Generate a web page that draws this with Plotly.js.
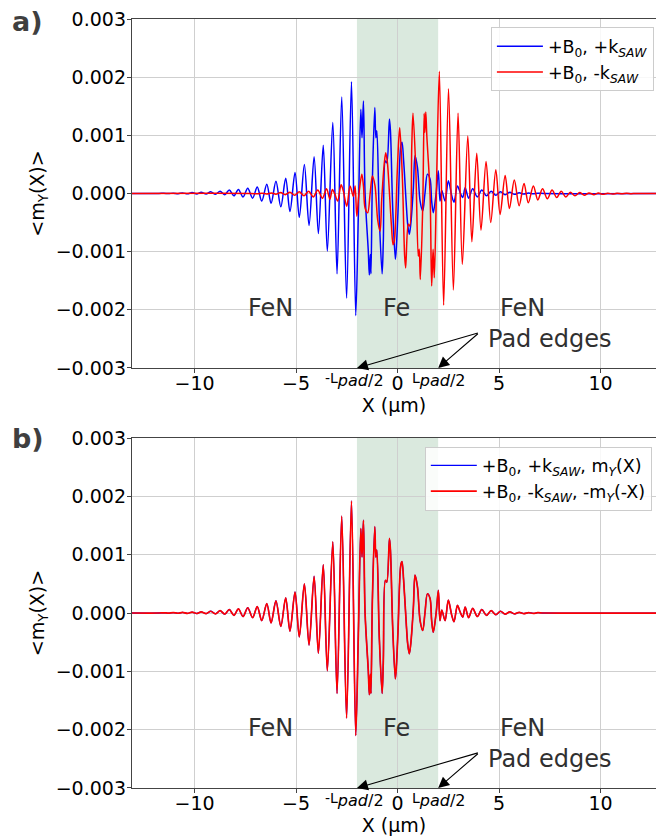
<!DOCTYPE html>
<html>
<head>
<meta charset="utf-8">
<script src="https://cdn.plot.ly/plotly-3.0.1.min.js"></script>
<style>
  html, body { margin: 0; padding: 0; background: #fff; }
  #chart { width: 656px; height: 840px; }
</style>
</head>
<body>
<div id="chart"></div>
<script>
// ---- data (x in µm, <mY> values) ----
// +B0, +kSAW  (extrema and turning points of the blue curve)
const blueX = [-13.08, -11.75, -11.51, -11.28, -11.05, -10.81, -10.59, -10.35, -10.12, -9.89,
  -9.67, -9.43, -9.20, -8.97, -8.74, -8.51, -8.29, -8.06, -7.84, -7.61,
  -7.38, -7.14, -6.91, -6.69, -6.44, -6.23, -5.99, -5.75, -5.51, -5.30,
  -5.05, -4.84, -4.59, -4.36, -4.11, -3.90, -3.66, -3.46, -3.19, -2.98,
  -2.75, -2.51, -2.27, -2.06, -1.93, -1.81, -1.75, -1.68, -1.60, -1.44,
  -1.39, -1.34, -1.31, -1.24, -1.12, -1.07, -1.02, -0.90, -0.76, -0.70,
  -0.60, -0.53, -0.40, -0.35, -0.24, -0.11, -0.06, 0.02, 0.16, 0.22,
  0.30, 0.42, 0.50, 0.58, 0.65, 0.78, 0.86, 0.98, 1.11, 1.24,
  1.35, 1.47, 1.60, 1.68, 1.76, 1.90, 2.01, 2.09, 2.18, 2.34,
  2.50, 2.67, 2.78, 2.95, 3.08, 3.21, 3.33, 3.50, 3.70, 3.93,
  4.15, 4.38, 4.61, 4.84, 5.07, 5.30, 5.53, 5.76, 5.99, 6.22,
  6.45, 6.68, 6.91, 7.20, 13.08];
const blueY = [0, 0, 0.000004, -0.000002, 0.000006, -0.000004, 0.00001, -0.000006, 0.000015, -0.000008,
  0.00002, -0.00001, 0.00003, -0.000015, 0.00004, -0.00002, 0.00006, -0.00004, 0.00007, -0.00006,
  0.00009, -0.00008, 0.00011, -0.00013, 0.00016, -0.00017, 0.00021, -0.00023, 0.00026, -0.00031,
  0.00036, -0.00041, 0.00050, -0.00055, 0.00063, -0.00069, 0.00083, -0.00099, 0.00122, -0.00138,
  0.00166, -0.00180, 0.00192, -0.00210, -0.00035, 0.00145, 0.00096, 0.00159, 0.00000, -0.00100,
  -0.00140, -0.00105, -0.00138, 0.00022, 0.00148, 0.00096, 0.00108, -0.00041, -0.00138, -0.00081,
  0.00056, 0.00053, 0.00128, 0.00108, -0.00024, -0.00113, -0.00093, -0.00033, 0.00082, 0.00088,
  0.00056, -0.00013, -0.00053, -0.00070, -0.00053, 0.00010, 0.00065, 0.00045, -0.00013, -0.00030,
  0.00000, 0.00033, 0.00025, -0.00013, -0.00033, 0.00000, 0.00039, -0.00013, 0.00005, -0.00013,
  0.00022, -0.00004, -0.00015, 0.00013, 0.00002, -0.00007, 0.00010, -0.00008, 0.00008, -0.00006,
  0.00006, -0.00004, 0.00004, -0.00003, 0.00003, -0.00002, 0.00002, -0.000015, 0.000012, -0.00001,
  0.000008, -0.000006, 0.000005, 0, 0];

// +B0, -kSAW  (red curve)
const redX = [-13.08, -7.20, -6.91, -6.68, -6.45, -6.22, -5.99, -5.76, -5.53, -5.30,
  -5.07, -4.84, -4.61, -4.38, -4.15, -3.93, -3.70, -3.50, -3.33, -3.21,
  -3.08, -2.95, -2.78, -2.67, -2.50, -2.34, -2.18, -2.09, -2.01, -1.90,
  -1.76, -1.68, -1.60, -1.47, -1.35, -1.24, -1.11, -0.98, -0.86, -0.78,
  -0.65, -0.58, -0.50, -0.42, -0.30, -0.22, -0.16, -0.02, 0.06, 0.11,
  0.24, 0.35, 0.40, 0.53, 0.60, 0.70, 0.76, 0.90, 1.02, 1.07,
  1.12, 1.24, 1.31, 1.34, 1.39, 1.44, 1.60, 1.68, 1.75, 1.81,
  1.93, 2.06, 2.27, 2.51, 2.75, 2.98, 3.19, 3.46, 3.66, 3.90,
  4.11, 4.36, 4.59, 4.84, 5.05, 5.30, 5.51, 5.75, 5.99, 6.23,
  6.44, 6.69, 6.91, 7.14, 7.38, 7.61, 7.84, 8.06, 8.29, 8.51,
  8.74, 8.97, 9.20, 9.43, 9.67, 9.89, 10.12, 10.35, 10.59, 10.81,
  11.05, 11.28, 11.51, 11.75, 13.08];
const redY = [0, 0, -0.000005, 0.000006, -0.000008, 0.00001, -0.000012, 0.000015, -0.00002, 0.00002,
  -0.00003, 0.00003, -0.00004, 0.00004, -0.00006, 0.00006, -0.00008, 0.00008, -0.00010, 0.00007,
  -0.00002, -0.00013, 0.00015, 0.00004, -0.00022, 0.00013, -0.00005, 0.00013, -0.00039, 0.00000,
  0.00033, 0.00013, -0.00025, -0.00033, 0.00000, 0.00030, 0.00013, -0.00045, -0.00065, -0.00010,
  0.00053, 0.00070, 0.00053, 0.00013, -0.00056, -0.00088, -0.00082, 0.00033, 0.00093, 0.00113,
  0.00024, -0.00108, -0.00128, -0.00053, -0.00056, 0.00081, 0.00138, 0.00041, -0.00108, -0.00096,
  -0.00148, -0.00022, 0.00138, 0.00105, 0.00140, 0.00100, 0.00000, -0.00159, -0.00096, -0.00145,
  0.00035, 0.00210, -0.00192, 0.00180, -0.00166, 0.00138, -0.00122, 0.00099, -0.00083, 0.00069,
  -0.00063, 0.00055, -0.00050, 0.00041, -0.00036, 0.00031, -0.00026, 0.00023, -0.00021, 0.00017,
  -0.00016, 0.00013, -0.00011, 0.00008, -0.00009, 0.00006, -0.00007, 0.00004, -0.00006, 0.00002,
  -0.00004, 0.000015, -0.00003, 0.00001, -0.00002, 0.000008, -0.000015, 0.000006, -0.00001, 0.000004,
  -0.000006, 0.000002, -0.000004, 0, 0];

const xTickVals = [-10, -5, 0, 5, 10];
const yTickVals = [-0.003, -0.002, -0.001, 0, 0.001, 0.002, 0.003];
const padEdges = [-2, 2];
const padLabels = [
  '<span style="font-size:14px">-L</span><sub><span style="font-size:16px"><i>pad</i>/2</span></sub>',
  '<span style="font-size:14px">L</span><sub><span style="font-size:16px"><i>pad</i>/2</span></sub>'
];
const regionLabels = ['FeN', 'Fe', 'FeN'];
const regionLabelX = [-6.24, -0.05, 6.16];

// b) panel: red shown as -mY(-X)
const redMirX = redX.map(v => -v).reverse();
const redMirY = redY.map(v => -v).reverse();

const FONT = 'DejaVu Sans, Verdana, sans-serif';

const traces = [
  {x: blueX, y: blueY, xaxis: 'x', yaxis: 'y', mode: 'lines', name: '+B<sub>0</sub>, +k<sub><i>SAW</i></sub>',
   line: {color: '#0000ff', width: 1.5, shape: 'spline', smoothing: 0.9}, legend: 'legend'},
  {x: redX, y: redY, xaxis: 'x', yaxis: 'y', mode: 'lines', name: '+B<sub>0</sub>, -k<sub><i>SAW</i></sub>',
   line: {color: '#ff0000', width: 1.5, shape: 'spline', smoothing: 0.9}, legend: 'legend'},
  {x: blueX, y: blueY, xaxis: 'x2', yaxis: 'y2', mode: 'lines', name: '+B<sub>0</sub>, +k<sub><i>SAW</i></sub>, m<sub><i>Y</i></sub>(X)',
   line: {color: '#0000ff', width: 1.3, shape: 'spline', smoothing: 0.9}, legend: 'legend2'},
  {x: redMirX, y: redMirY, xaxis: 'x2', yaxis: 'y2', mode: 'lines', name: '+B<sub>0</sub>, -k<sub><i>SAW</i></sub>, -m<sub><i>Y</i></sub>(-X)',
   line: {color: '#ff0000', width: 1.7, shape: 'spline', smoothing: 0.9}, legend: 'legend2'}
];

const xRange = [-13.08, 12.73];
function xAxis(anchor) {
  return {
    anchor: anchor, domain: [0, 1], range: xRange, tickvals: xTickVals,
    showgrid: true, gridcolor: '#cfcfcf', gridwidth: 1, zeroline: false,
    showline: true, linecolor: '#444', linewidth: 1.2, mirror: true,
    ticks: 'outside', ticklen: 4, tickcolor: '#444', ticklabelstandoff: -6,
    tickfont: {family: FONT, size: 19, color: '#000'},
    title: {text: 'X (µm)', font: {family: FONT, size: 19, color: '#000'}, standoff: 0},
    automargin: false
  };
}
function yAxis(anchor, domain) {
  return {
    anchor: anchor, domain: domain, range: [-0.003, 0.003], tickvals: yTickVals, tickformat: '.3f',
    showgrid: true, gridcolor: '#cfcfcf', gridwidth: 1, zeroline: false,
    showline: true, linecolor: '#444', linewidth: 1.2,
    ticks: 'outside', ticklen: 4, tickcolor: '#444', ticklabelstandoff: -3,
    tickfont: {family: FONT, size: 19, color: '#000'},
    title: {text: '&lt;m<sub>Y</sub>(X)&gt;', font: {family: FONT, size: 19, color: '#000'}, standoff: 6},
    automargin: false
  };
}

const shapes = [];
const annotations = [];
[['x', 'y', 'a)', 0.9965], ['x2', 'y2', 'b)', 0.4551]].forEach(([xa, ya, lab, ly]) => {
  shapes.push({type: 'rect', xref: xa, yref: ya + ' domain', x0: padEdges[0], x1: padEdges[1], y0: 0, y1: 1,
    fillcolor: 'rgba(60,140,80,0.19)', line: {width: 0}, layer: 'below'});
  regionLabels.forEach((t, i) => annotations.push({xref: xa, yref: ya, x: regionLabelX[i], y: -0.00197,
    text: t, showarrow: false, font: {family: FONT, size: 24, color: '#303030'}}));
  annotations.push({xref: xa, yref: ya, x: 7.5, y: -0.0025, text: 'Pad edges', showarrow: false,
    font: {family: FONT, size: 24, color: '#303030'}});
  padEdges.forEach(pe => annotations.push({xref: xa, yref: ya, x: pe, y: -0.003, ax: 4.03, ay: -0.00239,
    axref: xa, ayref: ya, text: '', showarrow: true, arrowhead: 2, arrowsize: 2, arrowwidth: 1.1,
    arrowcolor: '#000', standoff: 0}));
  padEdges.forEach((pe, i) => annotations.push({xref: xa, yref: ya, x: pe, y: -0.003, yanchor: 'top', yshift: 0,
    xshift: i === 0 ? -2 : 1,
    text: padLabels[i], showarrow: false, font: {family: FONT, size: 16, color: '#000'}}));
  annotations.push({xref: 'paper', yref: 'paper', x: -0.233, y: ly, xanchor: 'left', yanchor: 'middle',
    text: '<b>' + lab + '</b>', showarrow: false, font: {family: FONT, size: 27, color: '#3f3f3f'}});
});

const legendBase = {
  xanchor: 'right', yanchor: 'top', bgcolor: 'rgba(255,255,255,0.85)', bordercolor: '#cccccc', borderwidth: 1,
  font: {family: FONT, size: 17.5, color: '#000'}, tracegroupgap: 0, itemwidth: 46
};

const layout = {
  width: 656, height: 840,
  margin: {l: 132, r: 0, t: 19, b: 52},
  paper_bgcolor: '#ffffff', plot_bgcolor: '#ffffff',
  font: {family: FONT},
  xaxis: xAxis('y'),
  yaxis: yAxis('x', [0.5462, 1]),
  xaxis2: xAxis('y2'),
  yaxis2: yAxis('x2', [0, 0.4551]),
  legend: Object.assign({x: 0.996, y: 0.989}, legendBase),
  legend2: Object.assign({x: 0.992, y: 0.444}, legendBase),
  shapes: shapes,
  annotations: annotations,
  showlegend: true
};

Plotly.newPlot('chart', traces, layout, {displayModeBar: false, staticPlot: true});
</script>
</body>
</html>
